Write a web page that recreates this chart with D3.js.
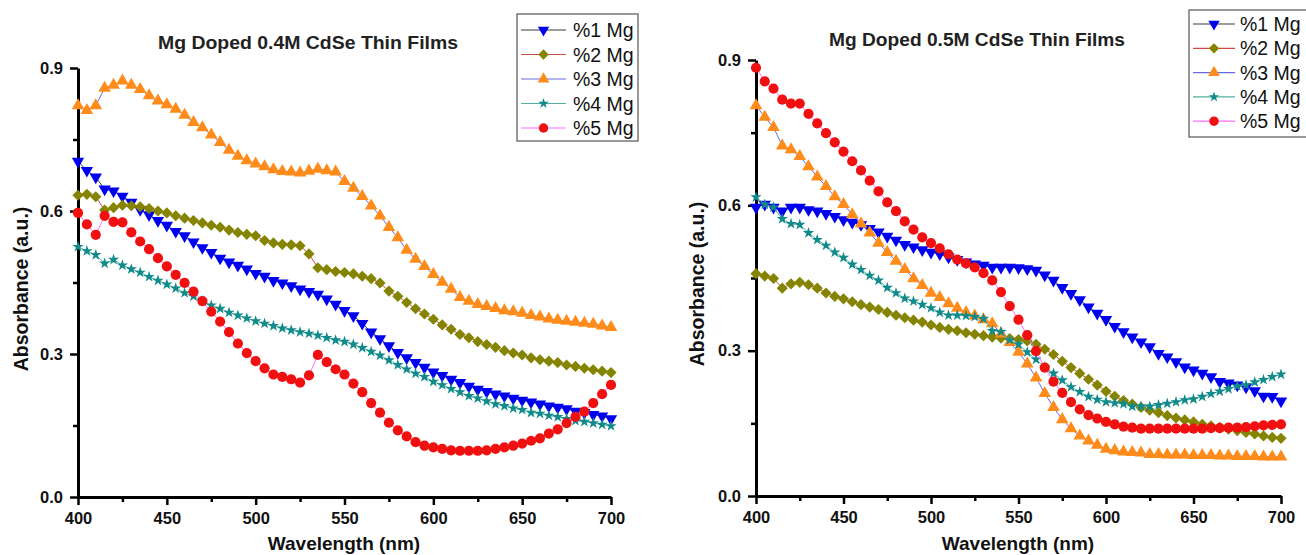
<!DOCTYPE html>
<html>
<head>
<meta charset="utf-8">
<script src="https://cdn.jsdelivr.net/npm/d3@7"></script>
<style>
  body { margin: 0; background: #fff; }
  svg text { font-family: "Liberation Sans", Arial, sans-serif; }
</style>
</head>
<body>
<div id="chart"></div>
<script>
// wavelength grid (nm)
var wavelength = [400,405,410,415,420,425,430,435,440,445,450,455,460,465,470,475,480,485,490,495,
                  500,505,510,515,520,525,530,535,540,545,550,555,560,565,570,575,580,585,590,595,
                  600,605,610,615,620,625,630,635,640,645,650,655,660,665,670,675,680,685,690,695,700];

var seriesNames = ["%1 Mg", "%2 Mg", "%3 Mg", "%4 Mg", "%5 Mg"];
var xTicks = [400, 450, 500, 550, 600, 650, 700];
var xMinorTicks = [425, 475, 525, 575, 625, 675];
var yTicks = [0, 0.3, 0.6, 0.9];
var yMinorTicks = [0.15, 0.45, 0.75];

// Mg doped 0.4M CdSe
var m04_mg1 = [0.704,0.685,0.671,0.646,0.642,0.631,0.618,0.603,0.592,0.580,0.570,0.557,0.548,0.535,0.523,0.513,0.501,0.493,0.486,0.478,
               0.469,0.463,0.454,0.449,0.443,0.436,0.431,0.425,0.415,0.404,0.391,0.380,0.364,0.346,0.332,0.317,0.303,0.292,0.282,0.272,
               0.262,0.255,0.247,0.240,0.232,0.226,0.221,0.216,0.212,0.207,0.203,0.199,0.195,0.191,0.188,0.185,0.180,0.177,0.173,0.170,0.164];
var m04_mg2 = [0.633,0.635,0.630,0.602,0.607,0.612,0.611,0.609,0.605,0.600,0.596,0.590,0.585,0.580,0.575,0.570,0.566,0.560,0.555,0.551,
               0.548,0.538,0.533,0.530,0.529,0.527,0.510,0.481,0.477,0.473,0.471,0.468,0.463,0.458,0.449,0.432,0.421,0.408,0.395,0.384,
               0.373,0.361,0.352,0.341,0.334,0.326,0.320,0.314,0.307,0.302,0.298,0.292,0.288,0.285,0.282,0.277,0.274,0.270,0.267,0.264,0.261];
var m04_mg3 = [0.821,0.811,0.821,0.858,0.864,0.873,0.864,0.855,0.842,0.831,0.823,0.814,0.801,0.786,0.775,0.760,0.744,0.728,0.715,0.706,
               0.699,0.693,0.687,0.683,0.682,0.680,0.684,0.688,0.685,0.682,0.662,0.648,0.631,0.611,0.590,0.566,0.544,0.518,0.499,0.484,
               0.467,0.451,0.436,0.419,0.411,0.404,0.400,0.396,0.391,0.389,0.386,0.381,0.378,0.374,0.371,0.369,0.367,0.365,0.363,0.359,0.356];
var m04_mg4 = [0.525,0.516,0.508,0.490,0.498,0.486,0.478,0.471,0.462,0.454,0.446,0.438,0.428,0.421,0.411,0.402,0.395,0.387,0.381,0.375,
               0.369,0.364,0.359,0.354,0.350,0.346,0.343,0.339,0.334,0.329,0.326,0.320,0.313,0.305,0.297,0.287,0.277,0.268,0.259,0.252,
               0.242,0.235,0.227,0.220,0.212,0.207,0.201,0.195,0.191,0.186,0.183,0.177,0.175,0.171,0.168,0.164,0.160,0.158,0.155,0.152,0.149];
var m04_mg5 = [0.596,0.572,0.550,0.590,0.577,0.576,0.555,0.536,0.520,0.501,0.484,0.466,0.449,0.431,0.411,0.389,0.368,0.346,0.322,0.302,
               0.285,0.270,0.257,0.252,0.247,0.240,0.255,0.298,0.283,0.268,0.257,0.238,0.220,0.197,0.177,0.156,0.140,0.127,0.115,0.108,
               0.104,0.101,0.098,0.097,0.097,0.097,0.098,0.101,0.104,0.108,0.112,0.118,0.123,0.133,0.142,0.155,0.168,0.179,0.197,0.216,0.235];

// Mg doped 0.5M CdSe
var m05_mg1 = [0.596,0.602,0.596,0.588,0.596,0.596,0.591,0.588,0.583,0.577,0.570,0.565,0.560,0.552,0.545,0.536,0.528,0.519,0.514,0.508,
               0.503,0.500,0.493,0.488,0.483,0.479,0.476,0.472,0.472,0.472,0.471,0.469,0.466,0.456,0.445,0.430,0.418,0.405,0.390,0.377,
               0.364,0.350,0.339,0.328,0.318,0.308,0.294,0.287,0.277,0.266,0.260,0.253,0.246,0.236,0.233,0.229,0.225,0.217,0.206,0.205,0.196];
var m05_mg2 = [0.459,0.454,0.449,0.429,0.438,0.441,0.436,0.429,0.419,0.412,0.407,0.401,0.395,0.390,0.385,0.379,0.373,0.368,0.363,0.359,
               0.353,0.348,0.344,0.341,0.337,0.334,0.331,0.328,0.326,0.325,0.323,0.320,0.313,0.303,0.292,0.278,0.265,0.253,0.241,0.229,
               0.216,0.206,0.197,0.190,0.183,0.177,0.172,0.166,0.161,0.157,0.153,0.148,0.145,0.142,0.138,0.135,0.131,0.128,0.124,0.121,0.119];
var m05_mg3 = [0.806,0.782,0.761,0.723,0.715,0.701,0.680,0.659,0.639,0.618,0.602,0.581,0.562,0.543,0.522,0.503,0.485,0.468,0.449,0.435,
               0.419,0.410,0.397,0.388,0.379,0.372,0.364,0.356,0.335,0.317,0.297,0.273,0.244,0.212,0.183,0.158,0.139,0.124,0.114,0.105,
               0.097,0.094,0.091,0.090,0.089,0.086,0.086,0.085,0.085,0.085,0.084,0.084,0.084,0.083,0.083,0.082,0.082,0.082,0.081,0.081,0.081];
var m05_mg4 = [0.617,0.602,0.596,0.572,0.562,0.560,0.543,0.529,0.517,0.503,0.492,0.478,0.467,0.455,0.445,0.430,0.419,0.408,0.402,0.395,
               0.388,0.379,0.373,0.373,0.372,0.370,0.366,0.341,0.339,0.322,0.313,0.297,0.282,0.266,0.253,0.239,0.225,0.215,0.205,0.199,
               0.194,0.192,0.190,0.185,0.185,0.185,0.188,0.191,0.194,0.198,0.200,0.205,0.211,0.216,0.221,0.227,0.229,0.235,0.240,0.246,0.251];
var m05_mg5 = [0.884,0.856,0.841,0.818,0.810,0.810,0.789,0.769,0.749,0.730,0.711,0.691,0.672,0.651,0.629,0.606,0.588,0.567,0.550,0.534,
               0.522,0.511,0.499,0.488,0.480,0.472,0.460,0.445,0.421,0.392,0.364,0.332,0.299,0.265,0.236,0.213,0.194,0.179,0.167,0.160,
               0.153,0.148,0.143,0.141,0.139,0.139,0.139,0.139,0.139,0.139,0.139,0.139,0.140,0.140,0.141,0.141,0.142,0.144,0.146,0.147,0.148];

// marker / line look of each series
var seriesStyle = [
  {fill: "#0000f0", line: "#3a3a3a", type: d3.symbolTriangle, size: 66, rotate: 180},
  {fill: "#848400", line: "#d04848", type: d3.symbolSquare,   size: 62, rotate: 45},
  {fill: "#ff8c1a", line: "#6a6ae6", type: d3.symbolTriangle, size: 70, rotate: 0},
  {fill: "#108a8a", line: "#50b0a0", type: d3.symbolStar,     size: 40, rotate: 0},
  {fill: "#f01010", line: "#ff6cff", type: d3.symbolCircle,   size: 82, rotate: 0}
];

var svg = d3.select("#chart").append("svg")
  .attr("width", 1306)
  .attr("height", 555);

function symbolPath(st, scale) {
  return d3.symbol().type(st.type).size(st.size * (scale || 1))();
}

function drawPanel(p) {
  var x = d3.scaleLinear().domain([400, 700]).range([p.left, p.right]);
  var y = d3.scaleLinear().domain([0, 0.9]).range([p.bottom, p.top]);

  // axes
  var gx = svg.append("g").attr("transform", "translate(0," + p.bottom + ")");
  gx.call(d3.axisBottom(x).tickValues(xTicks).tickSize(8).tickPadding(7).tickSizeOuter(0));
  var gxm = svg.append("g").attr("transform", "translate(0," + p.bottom + ")");
  gxm.call(d3.axisBottom(x).tickValues(xMinorTicks).tickSize(5).tickFormat("").tickSizeOuter(0));
  gxm.select(".domain").remove();

  var gy = svg.append("g").attr("transform", "translate(" + p.left + ",0)");
  gy.call(d3.axisLeft(y).tickValues(yTicks).tickSize(8).tickPadding(7).tickSizeOuter(0).tickFormat(d3.format(".1f")));
  var gym = svg.append("g").attr("transform", "translate(" + p.left + ",0)");
  gym.call(d3.axisLeft(y).tickValues(yMinorTicks).tickSize(5).tickFormat("").tickSizeOuter(0));
  gym.select(".domain").remove();

  svg.selectAll(".domain").attr("stroke", "#000").attr("stroke-width", 3);
  svg.selectAll(".tick line").attr("stroke", "#000").attr("stroke-width", 2.5);
  svg.selectAll(".tick text")
    .attr("fill", "#111")
    .style("font-size", "16.5px")
    .style("font-weight", "bold");

  // series
  p.series.forEach(function(vals, i) {
    var st = seriesStyle[i];
    var pts = vals.map(function(v, k) { return {w: wavelength[k], v: v}; });
    svg.append("path")
      .datum(pts)
      .attr("fill", "none")
      .attr("stroke", st.line)
      .attr("stroke-width", 1)
      .attr("d", d3.line()
        .x(function(d) { return x(d.w); })
        .y(function(d) { return y(d.v); }));
    svg.append("g").selectAll("path")
      .data(pts)
      .join("path")
      .attr("d", symbolPath(st))
      .attr("fill", st.fill)
      .attr("transform", function(d) {
        return "translate(" + x(d.w) + "," + y(d.v) + ") rotate(" + st.rotate + ")";
      });
  });

  // titles
  svg.append("text")
    .attr("x", p.titleX).attr("y", p.titleY)
    .attr("text-anchor", "middle").attr("dy", "0.35em")
    .attr("textLength", p.titleLen).attr("lengthAdjust", "spacingAndGlyphs")
    .style("font-size", "18px").style("font-weight", "bold").attr("fill", "#222")
    .text(p.title);

  svg.append("text")
    .attr("x", p.xLabelX).attr("y", 543)
    .attr("text-anchor", "middle").attr("dy", "0.35em")
    .style("font-size", "19px").style("font-weight", "bold").attr("fill", "#111")
    .text("Wavelength (nm)");

  svg.append("text")
    .attr("transform", "translate(" + p.yLabelX + "," + p.yLabelY + ") rotate(-90)")
    .attr("text-anchor", "middle").attr("dy", "0.35em")
    .style("font-size", "19.5px").style("font-weight", "bold").attr("fill", "#111")
    .text("Absorbance (a.u.)");

  // legend
  var lg = p.legend;
  svg.append("rect")
    .attr("x", lg.x).attr("y", lg.y).attr("width", lg.w).attr("height", lg.h)
    .attr("fill", "#fff").attr("stroke", "#555").attr("stroke-width", 1.2);
  seriesNames.forEach(function(name, i) {
    var st = seriesStyle[i];
    var cy = lg.row0 + i * lg.dy;
    svg.append("line")
      .attr("x1", lg.x + 4).attr("x2", lg.x + 4 + lg.lineLen)
      .attr("y1", cy).attr("y2", cy)
      .attr("stroke", st.line).attr("stroke-width", 1.2);
    svg.append("path")
      .attr("d", symbolPath(st, 0.85))
      .attr("fill", st.fill)
      .attr("transform", "translate(" + (lg.x + 4 + lg.lineLen / 2) + "," + cy + ") rotate(" + st.rotate + ")");
    svg.append("text")
      .attr("x", lg.x + lg.textDx).attr("y", cy).attr("dy", "0.36em")
      .style("font-size", "19.5px").attr("fill", "#111")
      .text(name);
  });
}

drawPanel({
  left: 78, right: 611, top: 68, bottom: 497,
  series: [m04_mg1, m04_mg2, m04_mg3, m04_mg4, m04_mg5],
  title: "Mg Doped 0.4M CdSe Thin Films", titleX: 308, titleY: 43, titleLen: 300,
  xLabelX: 344, yLabelX: 21, yLabelY: 289,
  legend: {x: 517, y: 14, w: 121, h: 127, row0: 30, dy: 24.5, lineLen: 45, textDx: 56}
});

drawPanel({
  left: 756, right: 1281, top: 60, bottom: 496,
  series: [m05_mg1, m05_mg2, m05_mg3, m05_mg4, m05_mg5],
  title: "Mg Doped 0.5M CdSe Thin Films", titleX: 977, titleY: 40, titleLen: 296,
  xLabelX: 1018, yLabelX: 697, yLabelY: 284,
  legend: {x: 1189, y: 10, w: 125, h: 127, row0: 24, dy: 24.3, lineLen: 42, textDx: 51}
});
</script>
</body>
</html>
